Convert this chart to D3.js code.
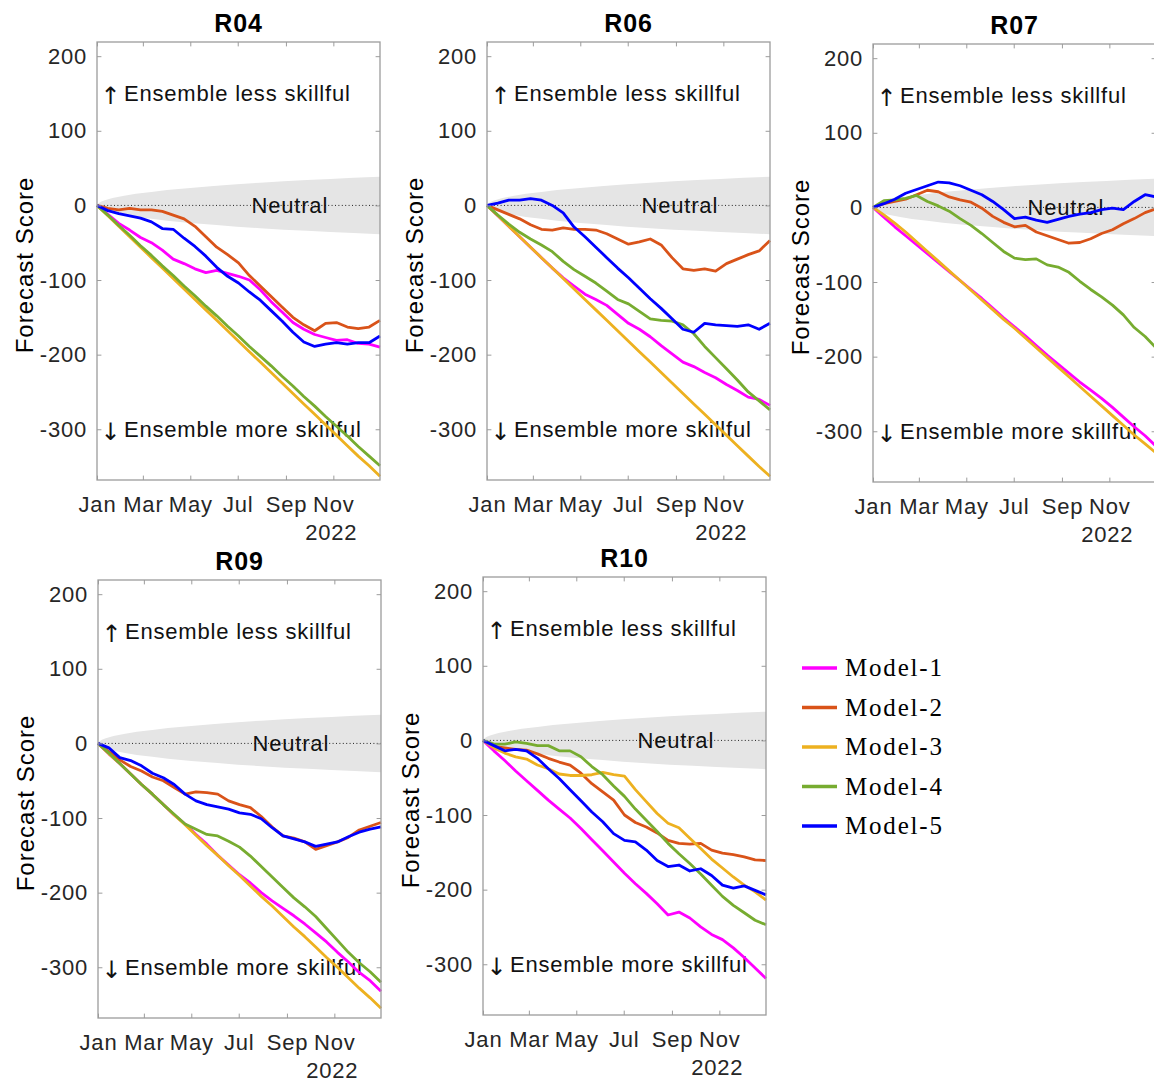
<!DOCTYPE html>
<html>
<head>
<meta charset="utf-8">
<script src="https://cdn.jsdelivr.net/npm/d3@7"></script>
<style>
  body { margin: 0; background: #fff; }
  #chart svg { display: block; }
</style>
</head>
<body>
<div id="chart"></div>
<script>
// ---- data (cumulative forecast score) ----
const days = [0,14,28,42,56,70,84,98,112,126,140,154,168,182,196,210,224,238,252,266,280,294,308,322,336,350,364];

// neutral band half-width
const bandDays = [0,2,5,10,20,35,50,70,90,120,150,180,210,240,270,300,330,364];
const bandHalf = [0,3,5,7,10,13,15.5,18,20.5,23.5,26,28.5,30.5,32.5,34,35.5,37,38.5];

const models = ["Model-1","Model-2","Model-3","Model-4","Model-5"];
const modelColors = ["#ff00ff","#d95319","#edb120","#77ac30","#0000ff"];
const regionNames = ["R04","R06","R07","R09","R10"];
const yTicks = [200,100,0,-100,-200,-300];
const monthLabels = ["Jan","Mar","May","Jul","Sep","Nov"];
const yearLabel = "2022";

const r04Model1 = [0,-12,-24,-33,-43,-50,-60,-72,-78,-85,-90,-87,-91,-95,-100,-113,-129,-143,-157,-166,-173,-177,-181,-180,-185,-186,-190];
const r04Model2 = [0,-4,-6,-4,-6,-6,-8,-13,-18,-28,-42,-56,-66,-77,-94,-108,-122,-136,-150,-160,-168,-158,-157,-163,-165,-163,-154];
const r04Model3 = [0,-14,-28,-42,-56,-70,-84,-98,-112,-126,-140,-154,-168,-182,-196,-210,-224,-238,-252,-266,-280,-294,-308,-322,-336,-349,-363];
const r04Model4 = [0,-13,-27,-40,-54,-67,-81,-94,-108,-121,-135,-148,-162,-175,-189,-202,-215,-229,-242,-256,-269,-283,-296,-309,-323,-336,-349];
const r04Model5 = [0,-7,-11,-14,-17,-22,-31,-32,-44,-55,-68,-83,-95,-104,-116,-127,-141,-155,-170,-183,-189,-186,-184,-186,-184,-184,-175];

const r06Model1 = [0,-14,-28,-42,-56,-70,-84,-97,-108,-119,-126,-134,-146,-158,-166,-176,-188,-199,-210,-216,-224,-231,-240,-248,-257,-260,-268];
const r06Model2 = [0,-6,-12,-18,-26,-32,-33,-30,-32,-32,-33,-38,-45,-52,-49,-45,-53,-70,-85,-87,-85,-88,-78,-72,-66,-61,-47];
const r06Model3 = [0,-14,-28,-42,-56,-70,-84,-98,-112,-126,-140,-154,-168,-182,-196,-210,-224,-238,-252,-266,-280,-294,-308,-322,-336,-350,-363];
const r06Model4 = [0,-13,-25,-36,-45,-53,-62,-75,-86,-95,-104,-115,-126,-132,-142,-152,-154,-155,-160,-172,-189,-204,-219,-234,-250,-262,-274];
const r06Model5 = [0,3,7,7,9,7,0,-10,-29,-42,-56,-70,-84,-97,-111,-125,-138,-152,-166,-170,-158,-160,-161,-162,-160,-166,-158];

const r07Model1 = [0,-13,-26,-38,-50,-62,-74,-86,-98,-110,-122,-135,-148,-160,-172,-185,-198,-210,-222,-234,-245,-256,-268,-281,-294,-306,-320];
const r07Model2 = [0,5,8,11,17,23,21,14,10,7,-1,-12,-20,-26,-24,-33,-38,-43,-48,-47,-42,-35,-30,-22,-15,-7,-2];
const r07Model3 = [0,-10,-21,-33,-46,-59,-72,-85,-98,-111,-124,-137,-150,-162,-175,-188,-201,-214,-227,-240,-253,-266,-279,-292,-305,-317,-329];
const r07Model4 = [0,9,10,12,16,8,2,-5,-15,-24,-35,-47,-59,-68,-70,-69,-77,-80,-87,-99,-110,-120,-131,-144,-161,-173,-188];
const r07Model5 = [0,5,11,19,24,29,34,33,29,23,17,8,-3,-15,-13,-17,-20,-16,-12,-9,-7,-3,-1,-3,8,17,14];

const r09Model1 = [0,-14,-27,-41,-55,-68,-82,-96,-108,-122,-135,-150,-163,-176,-187,-200,-211,-221,-231,-242,-254,-266,-280,-293,-307,-318,-332];
const r09Model2 = [0,-11,-22,-31,-37,-45,-50,-59,-68,-65,-66,-68,-77,-82,-86,-98,-112,-124,-127,-132,-142,-137,-132,-126,-116,-111,-106];
const r09Model3 = [0,-14,-27,-41,-55,-68,-82,-96,-109,-123,-137,-150,-164,-177,-191,-205,-218,-232,-246,-259,-273,-287,-300,-314,-328,-341,-355];
const r09Model4 = [0,-13,-27,-41,-55,-68,-82,-95,-108,-115,-122,-124,-131,-139,-151,-165,-179,-193,-207,-219,-232,-248,-264,-280,-294,-306,-320];
const r09Model5 = [0,-6,-19,-23,-30,-40,-46,-55,-68,-77,-82,-85,-88,-93,-95,-101,-113,-124,-128,-132,-138,-135,-132,-125,-119,-115,-112];

const r10Model1 = [0,-14,-27,-41,-54,-67,-80,-92,-104,-118,-133,-148,-163,-178,-192,-205,-219,-234,-230,-238,-250,-260,-267,-278,-291,-305,-319];
const r10Model2 = [0,-8,-10,-12,-13,-18,-24,-29,-33,-44,-58,-69,-80,-100,-110,-116,-124,-134,-138,-139,-138,-147,-151,-153,-156,-160,-161];
const r10Model3 = [0,-10,-17,-22,-25,-33,-38,-45,-47,-47,-46,-43,-46,-48,-66,-82,-98,-111,-117,-131,-145,-159,-171,-183,-194,-203,-214];
const r10Model4 = [0,-5,-5,-2,-4,-7,-7,-14,-14,-22,-35,-46,-61,-75,-92,-107,-122,-138,-152,-165,-179,-194,-209,-221,-231,-241,-247];
const r10Model5 = [0,-7,-14,-12,-14,-24,-38,-51,-66,-81,-96,-109,-125,-134,-136,-147,-161,-169,-167,-175,-172,-181,-194,-198,-195,-201,-207];

const regionSeries = [
    [r04Model1, r04Model2, r04Model3, r04Model4, r04Model5],
    [r06Model1, r06Model2, r06Model3, r06Model4, r06Model5],
    [r07Model1, r07Model2, r07Model3, r07Model4, r07Model5],
    [r09Model1, r09Model2, r09Model3, r09Model4, r09Model5],
    [r10Model1, r10Model2, r10Model3, r10Model4, r10Model5]
];

// ---- layout ----
const width = 1154, height = 1083;
const plot_w = 283, plot_h = 438;
// top-left corner of each axes box
const panelPos = [[97, 42], [487, 42], [873, 44], [98, 580], [483, 577]];
const sansFont = "'Liberation Sans', Arial, Helvetica, sans-serif";
const textColor = "#262626";
const boxColor = "#9c9c9c";
const tickLen = 4.4;

const start = new Date(2022, 0, 1);
const end = new Date(2022, 11, 31);
const toDate = d => d3.timeDay.offset(start, d);

let x = d3.scaleTime().domain([start, end]).range([0, plot_w]);
let y = d3.scaleLinear().domain([-368, 219]).range([plot_h, 0]);
const monthTicks = d3.timeMonth.every(2).range(start, end);

let svg = d3.select("#chart")
    .append("svg")
    .attr("width", width)
    .attr("height", height)
    .style("font-family", sansFont);

let band = d3.area()
    .x((d, i) => x(toDate(bandDays[i])))
    .y0(d => y(-d))
    .y1(d => y(d));

let line = d3.line()
    .x((d, i) => x(toDate(days[i])))
    .y(d => y(d));

function styleAxisText(g, size) {
    g.attr("font-family", sansFont)
        .attr("font-size", size)
        .attr("color", textColor);
    g.selectAll(".tick line").attr("stroke", boxColor).attr("stroke-width", 1);
    g.select(".domain").remove();
    g.selectAll("text").style("letter-spacing", "0.8px");
}

// arrow + phrase, arrow drawn a bit taller like the original
function addNote(panel, value, arrow, phrase) {
    let base = y(value) + 8;
    panel.append("text")
        .attr("x", 13.5)
        .attr("y", base + 3)
        .attr("text-anchor", "middle")
        .attr("font-family", "'DejaVu Sans', sans-serif")
        .attr("font-size", 24)
        .attr("fill", "#111")
        .text(arrow);
    panel.append("text")
        .attr("x", 27)
        .attr("y", base)
        .attr("font-size", 22)
        .style("letter-spacing", "0.8px")
        .attr("fill", "#111")
        .text(phrase);
}

regionNames.forEach((name, r) => {
    let [px, py] = panelPos[r];
    let panel = svg.append("g")
        .attr("transform", `translate(${px}, ${py})`);

    // neutral band and zero line
    panel.append("path")
        .datum(bandHalf)
        .attr("d", band)
        .attr("fill", "#e5e5e5");

    panel.append("line")
        .attr("x1", 0).attr("x2", plot_w)
        .attr("y1", y(0)).attr("y2", y(0))
        .attr("stroke", "#222")
        .attr("stroke-width", 1)
        .attr("stroke-dasharray", "1,2.4");

    // annotations
    panel.append("text")
        .attr("x", x(toDate(248)))
        .attr("y", y(0) + 8)
        .attr("text-anchor", "middle")
        .attr("font-size", 22)
        .style("letter-spacing", "0.8px")
        .attr("fill", "#111")
        .text("Neutral");

    addNote(panel, 150, "\u2191", "Ensemble less skillful");
    addNote(panel, -300, "\u2193", "Ensemble more skillful");

    // model lines, drawn in legend order so Model-5 ends on top
    regionSeries[r].forEach((vals, m) => {
        panel.append("path")
            .datum(vals)
            .attr("d", line)
            .attr("fill", "none")
            .attr("stroke", modelColors[m])
            .attr("stroke-width", 2.8)
            .attr("stroke-linejoin", "round");
    });

    // axes with inward ticks on all four sides
    panel.append("g")
        .attr("transform", `translate(0, ${plot_h})`)
        .call(d3.axisBottom(x).tickValues(monthTicks)
            .tickFormat((d, i) => monthLabels[i])
            .tickSizeInner(-tickLen).tickSizeOuter(0).tickPadding(16.4))
        .call(g => styleAxisText(g, 22));

    panel.append("g")
        .call(d3.axisTop(x).tickValues(monthTicks).tickFormat("")
            .tickSizeInner(-tickLen).tickSizeOuter(0))
        .call(g => styleAxisText(g, 22));

    panel.append("g")
        .call(d3.axisLeft(y).tickValues(yTicks)
            .tickFormat(d => String(d))
            .tickSizeInner(-tickLen).tickSizeOuter(0).tickPadding(10))
        .call(g => styleAxisText(g, 22));

    panel.append("g")
        .attr("transform", `translate(${plot_w}, 0)`)
        .call(d3.axisRight(y).tickValues(yTicks).tickFormat("")
            .tickSizeInner(-tickLen).tickSizeOuter(0))
        .call(g => styleAxisText(g, 22));

    panel.append("rect")
        .attr("width", plot_w)
        .attr("height", plot_h)
        .attr("fill", "none")
        .attr("stroke", boxColor)
        .attr("stroke-width", 1.3);

    // year label under the Nov tick
    panel.append("text")
        .attr("x", x(monthTicks[5]) - 2)
        .attr("y", plot_h + 60)
        .attr("text-anchor", "middle")
        .attr("font-size", 22)
        .style("letter-spacing", "0.8px")
        .attr("fill", textColor)
        .text(yearLabel);

    // y label and title
    panel.append("text")
        .attr("transform", `translate(-64, ${plot_h / 2 + 4}) rotate(-90)`)
        .attr("text-anchor", "middle")
        .attr("font-size", 24)
        .style("letter-spacing", "1px")
        .attr("fill", "#000")
        .text("Forecast Score");

    panel.append("text")
        .attr("x", plot_w / 2)
        .attr("y", -10)
        .attr("text-anchor", "middle")
        .attr("font-size", 25)
        .attr("font-weight", "bold")
        .style("letter-spacing", "0.8px")
        .attr("fill", "#000")
        .text(name);
});

// legend
let legend = svg.append("g")
    .attr("transform", "translate(802, 668)");

models.forEach((m, i) => {
    let row = legend.append("g").attr("transform", `translate(0, ${i * 39.5})`);
    row.append("line")
        .attr("x1", 0).attr("x2", 35)
        .attr("stroke", modelColors[i])
        .attr("stroke-width", 3.5);
    row.append("text")
        .attr("x", 43)
        .attr("y", 8)
        .attr("font-family", "'Liberation Serif', 'Times New Roman', serif")
        .attr("font-size", 25)
        .style("letter-spacing", "1.8px")
        .attr("fill", "#000")
        .text(m);
});
</script>
</body>
</html>
